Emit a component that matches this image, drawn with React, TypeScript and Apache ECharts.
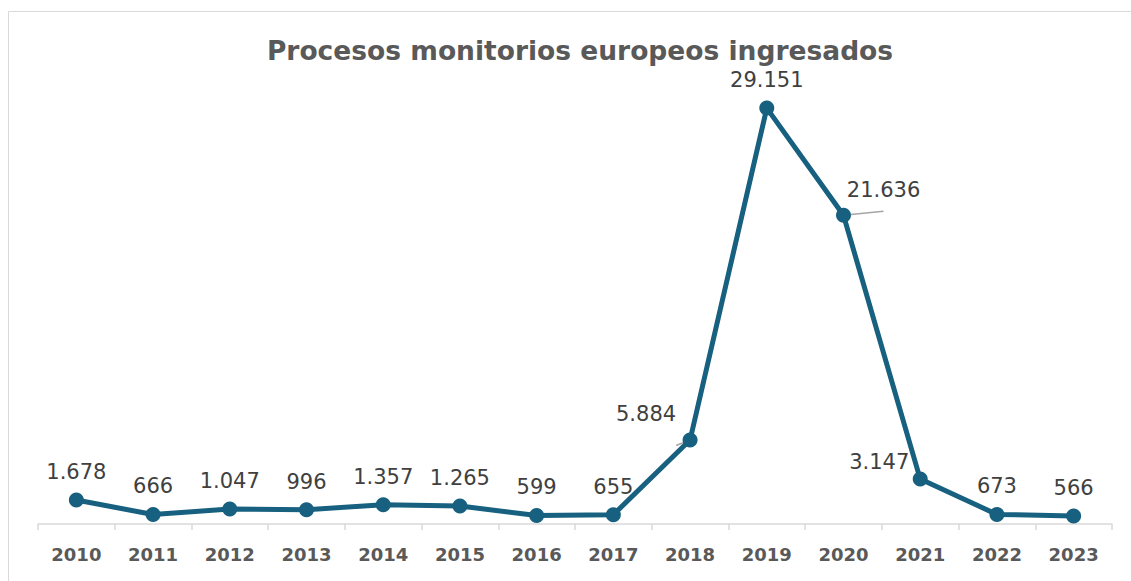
import React, { useEffect, useRef } from "react";
import * as echarts from "echarts";

const years = ["2010", "2011", "2012", "2013", "2014", "2015", "2016", "2017", "2018", "2019", "2020", "2021", "2022", "2023"];
const values = [1678, 666, 1047, 996, 1357, 1265, 599, 655, 5884, 29151, 21636, 3147, 673, 566];
const titleText = "Procesos monitorios europeos ingresados";
// labels moved aside with a leader line: [index, dx, dy]
const movedLabels: Record<number, [number, number, boolean]> = {
  8: [-44, 2, true],
  10: [40, 3, true],
  11: [-41, 11, false],
};

const fmt = (v: number) => v.toString().replace(/\B(?=(\d{3})+(?!\d))/g, ".");

export default function App() {
  const ref = useRef<HTMLDivElement>(null);
  useEffect(() => {
    if (!ref.current) return;
    const chart = echarts.init(ref.current, undefined, { renderer: "svg" });
    const data = values.map((v, i) => {
      const m = movedLabels[i];
      if (!m) return v;
      return {
        value: v,
        label: { offset: [m[0], m[1]] },
        labelLine: { show: m[2] },
      };
    });
    chart.setOption({
      animation: false,
      backgroundColor: "#ffffff",
      title: {
        text: titleText,
        left: 575,
        textAlign: "center",
        top: 32,
        textStyle: {
          fontFamily: "DejaVu Sans",
          fontWeight: "bold",
          fontSize: 26.5,
          color: "#595959",
        },
      },
      graphic: [
        {
          type: "rect",
          shape: { x: 8.5, y: 11.5, width: 1200, height: 700 },
          style: { fill: "none", stroke: "#d9d9d9", lineWidth: 1 },
          silent: true,
          z: -10,
        },
      ],
      grid: { left: 38, right: 19, top: 96, bottom: 57, containLabel: false },
      xAxis: {
        type: "category",
        data: years,
        boundaryGap: true,
        axisLine: { show: true, lineStyle: { color: "#d9d9d9", width: 1.5 } },
        axisTick: { show: true, length: 6, lineStyle: { color: "#d9d9d9", width: 1.5 } },
        axisLabel: {
          fontFamily: "DejaVu Sans",
          fontWeight: "bold",
          fontSize: 18,
          color: "#595959",
          margin: 21,
        },
      },
      yAxis: {
        type: "value",
        min: 0,
        max: 30000,
        show: false,
        splitLine: { show: false },
      },
      series: [
        {
          type: "line",
          data,
          symbol: "circle",
          symbolSize: 15,
          lineStyle: { color: "#17607f", width: 5 },
          itemStyle: { color: "#17607f" },
          label: {
            show: true,
            position: "top",
            distance: 10,
            fontFamily: "DejaVu Sans",
            fontSize: 21,
            color: "#404040",
            formatter: (p: any) => fmt(p.value),
          },
          labelLine: { show: false, lineStyle: { color: "#a6a6a6", width: 1.5 } },
        },
      ],
    });
    return () => chart.dispose();
  }, []);
  return <div ref={ref} style={{ width: 1131, height: 581, position: "absolute", left: 0, top: 0 }} />;
}
